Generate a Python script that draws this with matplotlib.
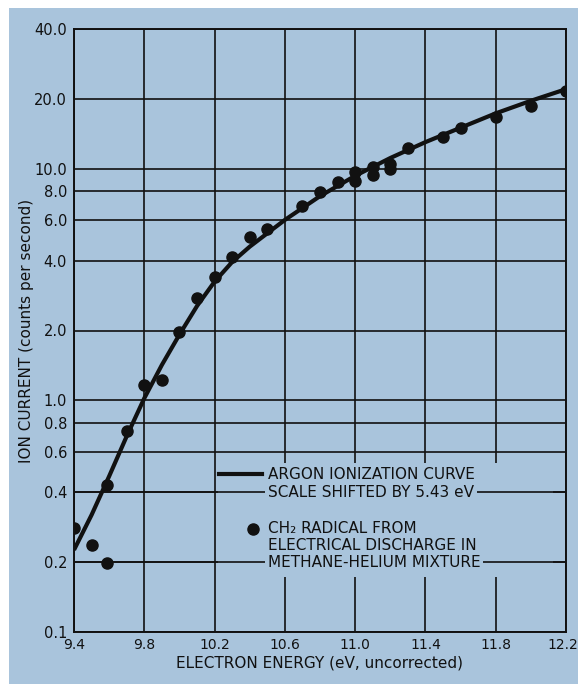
import numpy as np
import matplotlib.pyplot as plt
import matplotlib.transforms as mtransforms
from matplotlib.patches import Rectangle

# argon ionization curve (scale shifted by 5.43 eV)
curve_e = [9.40, 9.50, 9.60, 9.70, 9.80, 9.90, 10.0, 10.1, 10.2, 10.3, 10.4,
           10.6, 10.8, 11.0, 11.2, 11.4, 11.6, 11.8, 12.0, 12.2]
curve_i = [0.226, 0.32, 0.47, 0.70, 1.02, 1.42, 1.92, 2.55, 3.25, 3.95, 4.6,
           6.0, 7.6, 9.3, 11.1, 13.0, 15.0, 17.3, 19.6, 22.0]

# CH2 radical measurements
ch2_e = [9.40, 9.50, 9.59, 9.59, 9.70, 9.80, 9.90, 10.0, 10.1, 10.2, 10.3,
         10.4, 10.5, 10.7, 10.8, 10.9, 11.0, 11.0, 11.1, 11.1, 11.2, 11.2,
         11.3, 11.5, 11.6, 11.8, 12.0, 12.2]
ch2_i = [0.28, 0.238, 0.198, 0.43, 0.74, 1.16, 1.22, 1.97, 2.76, 3.42, 4.14,
         5.08, 5.5, 6.9, 7.9, 8.75, 9.7, 8.85, 10.2, 9.4, 10.5, 10.0,
         12.3, 13.7, 14.9, 16.7, 18.6, 21.7]

xticks = [9.4, 9.8, 10.2, 10.6, 11.0, 11.4, 11.8, 12.2]
yticks = [0.1, 0.2, 0.4, 0.6, 0.8, 1.0, 2.0, 4.0, 6.0, 8.0, 10.0, 20.0, 40.0]

bg = '#a9c4dc'
ink = '#111111'

plt.rcParams['font.family'] = ['DejaVu Sans']

fig = plt.figure(figsize=(5.78, 6.84), dpi=100, facecolor='white')
fig.add_artist(Rectangle((9 / 578, 0), 1, 1 - 8 / 684, transform=fig.transFigure,
                         facecolor=bg, edgecolor='none', zorder=-10))
ax = fig.add_axes([74 / 578, 1 - 632 / 684, 492 / 578, 603 / 684])
ax.set_facecolor(bg)
ax.set_yscale('log')
ax.set_xlim(9.4, 12.2)
ax.set_ylim(0.1, 40)
ax.set_xticks(xticks)
ax.set_xticklabels(['%.1f' % v for v in xticks])
ax.set_yticks(yticks)
ax.set_yticklabels(['0.1'] + ['%.1f' % v for v in yticks[1:]])
ax.minorticks_off()
ax.tick_params(length=0, labelsize=10.5, colors=ink, pad=5)
ax.tick_params(axis='x', labelsize=10, pad=4)
ax.set_axisbelow(True)
ax.grid(True, color=ink, lw=1.2)
for s in ax.spines.values():
    s.set_color(ink)
    s.set_linewidth(1.4)

# keep the last x label inside the figure
last = ax.get_xticklabels()[-1]
last.set_transform(last.get_transform() + mtransforms.ScaledTranslation(-3 / 100, 0, fig.dpi_scale_trans))

ax.plot(curve_e, curve_i, color=ink, lw=3, zorder=3, solid_capstyle='butt')
ax.plot(ch2_e, ch2_i, 'o', color=ink, ms=8, zorder=4)

ax.set_xlabel('ELECTRON ENERGY (eV, uncorrected)', fontsize=11, color=ink, labelpad=3)
ax.set_ylabel('ION CURRENT (counts per second)', fontsize=11, color=ink, labelpad=0)

# legend block cut out of the grid
ax.add_patch(Rectangle((0.293, 0.091), 0.68, 0.189, transform=ax.transAxes,
                       facecolor=bg, edgecolor='none', zorder=1))
for yv in (0.4, 0.2):
    ax.axhline(yv, color=ink, lw=1.2, zorder=1.1)

tx = 0.394
fs = 11
box = dict(facecolor=bg, edgecolor='none', pad=2)
ax.plot([0.295, 0.382], [0.262, 0.262], color=ink, lw=3, transform=ax.transAxes, zorder=3)
ax.text(tx, 0.262, 'ARGON IONIZATION CURVE', transform=ax.transAxes,
        fontsize=fs, color=ink, va='center', zorder=3)
ax.text(tx, 0.231, 'SCALE SHIFTED BY 5.43 eV', transform=ax.transAxes,
        fontsize=fs, color=ink, va='center', zorder=2, bbox=box)
ax.plot([0.364], [0.171], 'o', color=ink, ms=8, transform=ax.transAxes, zorder=3)
ax.text(tx, 0.172, 'CH₂ RADICAL FROM', transform=ax.transAxes,
        fontsize=fs, color=ink, va='center', zorder=3)
ax.text(tx, 0.144, 'ELECTRICAL DISCHARGE IN', transform=ax.transAxes,
        fontsize=fs, color=ink, va='center', zorder=3)
ax.text(tx, 0.116, 'METHANE-HELIUM MIXTURE', transform=ax.transAxes,
        fontsize=fs, color=ink, va='center', zorder=2, bbox=box)

fig.savefig('out.png', dpi=100, facecolor=fig.get_facecolor())
